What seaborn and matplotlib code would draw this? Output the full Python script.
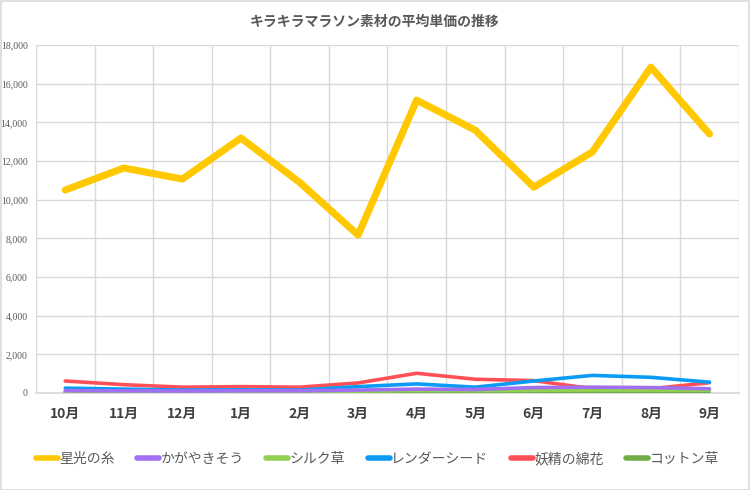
import matplotlib
matplotlib.use("Agg")
import matplotlib.pyplot as plt
import matplotlib.ticker as mticker
from matplotlib.lines import Line2D
import seaborn as sns
import pandas as pd

months = ["10月", "11月", "12月", "1月", "2月", "3月", "4月", "5月", "6月", "7月", "8月", "9月"]
hoshi = [10500, 11640, 11070, 13190, 10900, 8170, 15150, 13600, 10650, 12470, 16860, 13400]
kagayaki = [120, 110, 100, 110, 110, 150, 200, 180, 280, 300, 280, 220]
silk = [60, 60, 60, 60, 70, 100, 130, 120, 140, 150, 150, 150]
render = [250, 200, 150, 160, 150, 330, 470, 300, 620, 910, 810, 560]
yousei = [620, 430, 300, 330, 300, 520, 1020, 710, 640, 220, 220, 530]
cotton = [40, 40, 40, 40, 40, 40, 40, 40, 40, 40, 40, 40]

series = ["星光の糸", "かがやきそう", "シルク草", "レンダーシード", "妖精の綿花", "コットン草"]
values = [hoshi, kagayaki, silk, render, yousei, cotton]
colors = ["#FFC800", "#A070F0", "#92D050", "#0A9CF5", "#FF5057", "#70AD47"]
widths = [5.1, 2.6, 2.6, 2.6, 2.6, 2.6]

rows = []
for name, vals in zip(series, values):
    for i, (m, v) in enumerate(zip(months, vals)):
        rows.append({"month": m, "idx": i, "series": name, "value": v})
df = pd.DataFrame(rows)

sns.set_theme(style="white")
plt.rcParams["font.family"] = ["Noto Sans CJK JP", "DejaVu Sans"]

fig = plt.figure(figsize=(7.5, 4.9), dpi=100)
ax = fig.add_axes([0.048, 0.198, 0.937, 0.71])

# draw in reverse so the main series is on top
for name, col, lw in reversed(list(zip(series, colors, widths))):
    sub = df[df["series"] == name]
    sns.lineplot(data=sub, x="idx", y="value", color=col, linewidth=lw,
                 ax=ax, legend=False, solid_capstyle="round",
                 solid_joinstyle="round", zorder=3)

ax.set_xlim(-0.5, 11.5)
ax.set_ylim(0, 18000)
ax.set_xticks(range(12))
ax.set_xticklabels(months, fontsize=10, fontweight="bold", color="#404040")
ax.xaxis.set_minor_locator(mticker.FixedLocator([i - 0.5 for i in range(13)]))
ax.set_yticks(range(0, 18001, 2000))
ax.yaxis.set_major_formatter(mticker.FuncFormatter(lambda v, p: f"{int(v):,}"))
for lab in ax.get_yticklabels():
    lab.set_fontsize(7)
    lab.set_color("#595959")
    lab.set_family(["Liberation Serif", "DejaVu Serif"])
ax.tick_params(axis="x", which="both", length=0, pad=10)
ax.tick_params(axis="y", length=0, pad=6)
ax.grid(axis="y", which="major", color="#D9D9D9", linewidth=1)
ax.grid(axis="x", which="minor", color="#D9D9D9", linewidth=1)
ax.grid(axis="x", which="major", visible=False)
for s in ["top", "right", "left"]:
    ax.spines[s].set_visible(False)
ax.spines["bottom"].set_color("#D9D9D9")
ax.set_xlabel("")
ax.set_ylabel("")

fig.text(0.5, 0.955, "キラキラマラソン素材の平均単価の推移", ha="center", va="center",
         fontsize=10, fontweight="bold", color="#595959")

handles = [Line2D([0], [0], color=c, linewidth=4, solid_capstyle="round") for c in colors]
fig.legend(handles, series, loc="center", bbox_to_anchor=(0.503, 0.063), ncol=6,
           frameon=False, fontsize=10, handlelength=1.6, handletextpad=0.1,
           columnspacing=1.6, labelcolor="#595959")

fig.patches.append(plt.Rectangle((0.001, 0.001), 0.997, 0.997, transform=fig.transFigure,
                                 fill=False, edgecolor="#D9D9D9", linewidth=1.2))
fig.savefig("out.png", dpi=100, facecolor="white")
